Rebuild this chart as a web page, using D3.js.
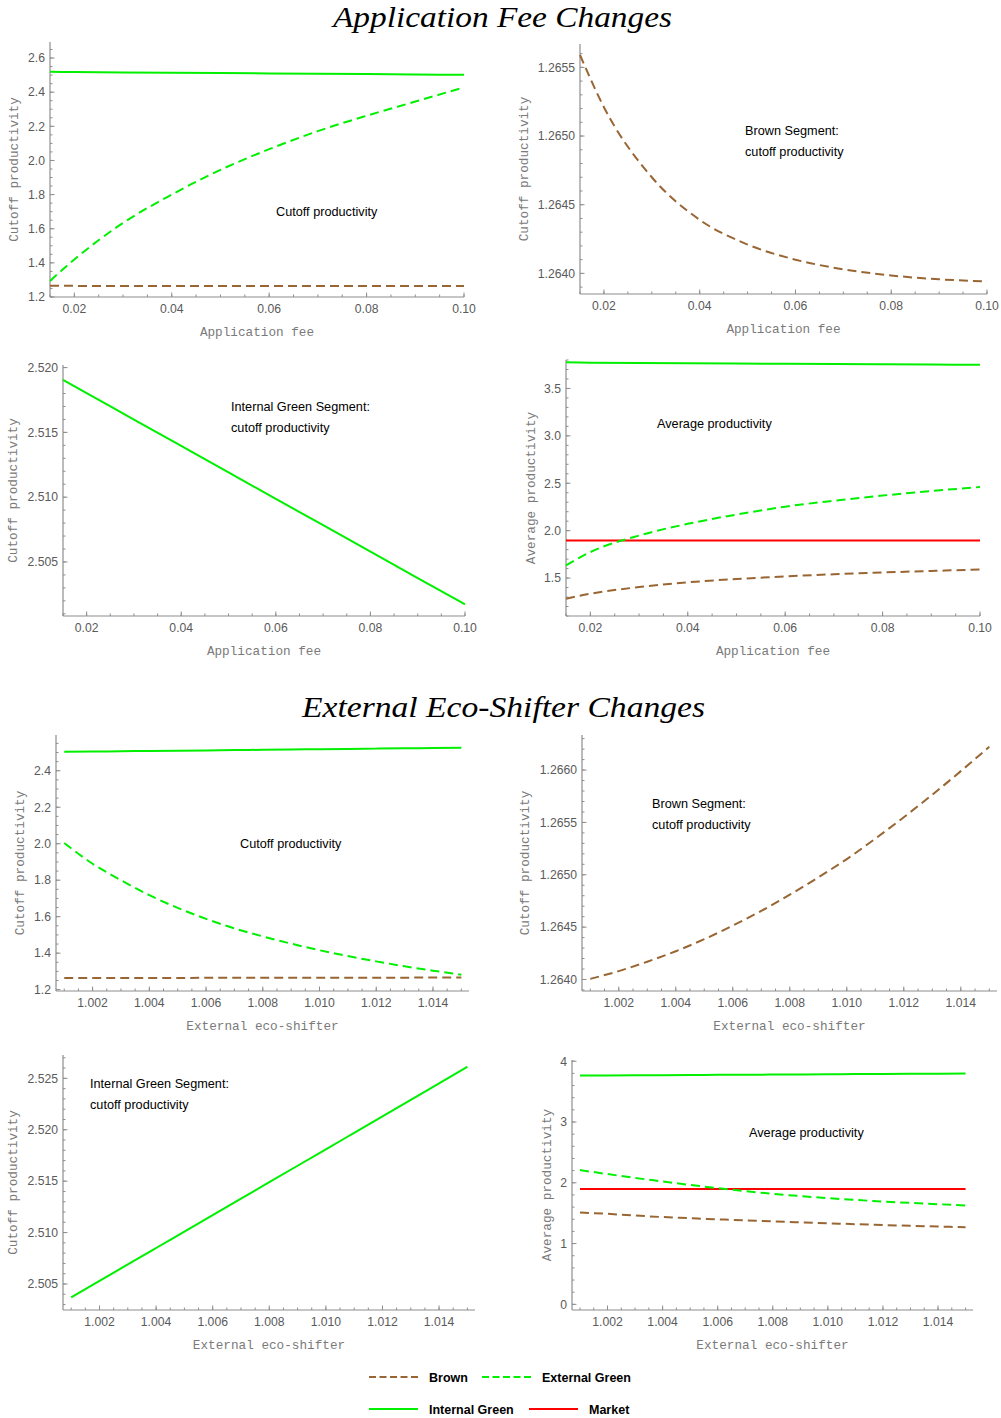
<!DOCTYPE html>
<html>
<head>
<meta charset="utf-8">
<script src="https://cdn.jsdelivr.net/npm/d3@7/dist/d3.min.js"></script>
<style>
  body { margin: 0; background: #fff; }
  svg { display: block; }
</style>
</head>
<body>
<svg id="chart" width="1001" height="1418"></svg>
<script>
// values

// application fee panels
let feeX = [0.015, 0.02, 0.03, 0.04, 0.05, 0.06, 0.07, 0.08, 0.09, 0.10];
let feeBrownCutoff = [1.26559, 1.26521, 1.26470, 1.26439, 1.26421, 1.26410, 1.26403, 1.263985, 1.263957, 1.263942];
let feeIntGreenCutoff = [2.51905, 2.51803, 2.51599, 2.51395, 2.51191, 2.50987, 2.50784, 2.5058, 2.50376, 2.50173];
let feeExtGreenCutoff = [1.294, 1.42, 1.634, 1.80, 1.945, 2.066, 2.172, 2.262, 2.345, 2.428];
let feeBrownAvg = [1.282, 1.335, 1.405, 1.455, 1.49, 1.518, 1.54, 1.559, 1.575, 1.59];
let feeExtGreenAvg = [1.633, 1.774, 1.949, 2.072, 2.17, 2.253, 2.316, 2.37, 2.418, 2.46];
let feeIntGreenAvg = [3.775, 3.772, 3.769, 3.766, 3.763, 3.76, 3.757, 3.755, 3.752, 3.749];
let feeMarketAvg = [1.896, 1.896, 1.896, 1.896, 1.896, 1.896, 1.896, 1.896, 1.896, 1.896];

// external eco-shifter panels
let ecoX = [1.001, 1.002, 1.003, 1.004, 1.005, 1.006, 1.007, 1.008, 1.009, 1.010, 1.011, 1.012, 1.013, 1.014, 1.015];
let ecoBrownCutoff = [1.264006, 1.26408, 1.26417, 1.26427, 1.264385, 1.264515, 1.264655, 1.26481, 1.264975, 1.26515, 1.265345, 1.26555, 1.265765, 1.26599, 1.266223];
let ecoIntGreenCutoff = [2.5037, 2.5053, 2.5069, 2.5085, 2.5101, 2.5117, 2.5133, 2.5149, 2.5165, 2.5181, 2.5197, 2.5213, 2.5229, 2.5245, 2.52613];
let ecoExtGreenCutoff = [2.004, 1.89, 1.80, 1.718, 1.648, 1.588, 1.536, 1.492, 1.452, 1.416, 1.384, 1.355, 1.328, 1.304, 1.282];
let ecoBrownAvg = [1.511, 1.489, 1.461, 1.436, 1.417, 1.399, 1.382, 1.365, 1.349, 1.334, 1.319, 1.305, 1.292, 1.28, 1.269];
let ecoExtGreenAvg = [2.209, 2.143, 2.08, 2.022, 1.965, 1.912, 1.863, 1.819, 1.781, 1.747, 1.718, 1.692, 1.669, 1.648, 1.626];
let ecoIntGreenAvg = [3.764, 3.766, 3.769, 3.771, 3.774, 3.776, 3.778, 3.78, 3.783, 3.785, 3.788, 3.790, 3.792, 3.795, 3.797];
let ecoMarketAvg = [1.896, 1.896, 1.896, 1.896, 1.896, 1.896, 1.896, 1.896, 1.896, 1.896, 1.896, 1.896, 1.896, 1.896, 1.896];

// tick labels
let feeTicks = [0.02, 0.04, 0.06, 0.08, 0.10];
let ecoTicks = [1.002, 1.004, 1.006, 1.008, 1.010, 1.012, 1.014];
let cutoffTicksA = [1.2, 1.4, 1.6, 1.8, 2.0, 2.2, 2.4, 2.6];
let cutoffTicksB = [1.2, 1.4, 1.6, 1.8, 2.0, 2.2, 2.4];
let brownTicksA = [1.2640, 1.2645, 1.2650, 1.2655];
let brownTicksB = [1.2640, 1.2645, 1.2650, 1.2655, 1.2660];
let intGreenTicksA = [2.505, 2.510, 2.515, 2.520];
let intGreenTicksB = [2.505, 2.510, 2.515, 2.520, 2.525];
let avgTicksA = [1.5, 2.0, 2.5, 3.0, 3.5];
let avgTicksB = [0, 1, 2, 3, 4];

let legendNames = ["Brown", "External Green", "Internal Green", "Market"];

// styles
let BROWN = "#996633";
let GREEN = "#00f000";
let RED = "#ff0000";
let AXIS = "#8e8e8e";
let TICKTXT = "#5a5a5a";
let LABTXT = "#7a7a7a";

let styles = {
  brown: { color: BROWN, dash: "9,5" },
  ext: { color: GREEN, dash: "9,5" },
  int: { color: GREEN, dash: null },
  market: { color: RED, dash: null }
};

let svg = d3.select("#chart");

// titles
svg.append("text")
  .attr("x", 502.5).attr("y", 27)
  .attr("text-anchor", "middle")
  .attr("font-family", "'Liberation Serif', serif")
  .attr("font-style", "italic")
  .attr("font-size", 29)
  .attr("textLength", 339).attr("lengthAdjust", "spacingAndGlyphs")
  .text("Application Fee Changes");

svg.append("text")
  .attr("x", 503.5).attr("y", 717)
  .attr("text-anchor", "middle")
  .attr("font-family", "'Liberation Serif', serif")
  .attr("font-style", "italic")
  .attr("font-size", 29)
  .attr("textLength", 403).attr("lengthAdjust", "spacingAndGlyphs")
  .text("External Eco-Shifter Changes");

// panel layouts
let panels = [
  {
    px: [50, 464], py: [297, 42], xd: [0.015, 0.1], yd: [1.2, 2.694],
    xt: feeTicks, xMinor: 0.005, xf: d3.format(".2f"),
    yt: cutoffTicksA, yMinor: 0.05, yf: d3.format(".1f"),
    xlab: "Application fee", ylab: "Cutoff productivity", ylabX: 14,
    xs: feeX,
    series: [["brown", feeBrownCutoff], ["ext", feeExtGreenCutoff], ["int", feeIntGreenCutoff]],
    notes: [[276, 211, "Cutoff productivity"]]
  },
  {
    px: [580, 987], py: [294, 44], xd: [0.015, 0.1], yd: [1.26385, 1.26567],
    xt: feeTicks, xMinor: 0.005, xf: d3.format(".2f"),
    yt: brownTicksA, yMinor: 0.0001, yf: d3.format(".4f"),
    xlab: "Application fee", ylab: "Cutoff productivity", ylabX: 524,
    xs: feeX,
    series: [["brown", feeBrownCutoff]],
    notes: [[745, 130, "Brown Segment:"], [745, 151, "cutoff productivity"]]
  },
  {
    px: [63, 465], py: [616, 365], xd: [0.015, 0.1], yd: [2.50083, 2.5202],
    xt: feeTicks, xMinor: 0.005, xf: d3.format(".2f"),
    yt: intGreenTicksA, yMinor: 0.001, yf: d3.format(".3f"),
    xlab: "Application fee", ylab: "Cutoff productivity", ylabX: 13,
    xs: feeX,
    series: [["int", feeIntGreenCutoff]],
    notes: [[231, 406, "Internal Green Segment:"], [231, 427, "cutoff productivity"]]
  },
  {
    px: [566, 980], py: [616, 360], xd: [0.015, 0.1], yd: [1.1, 3.8],
    xt: feeTicks, xMinor: 0.005, xf: d3.format(".2f"),
    yt: avgTicksA, yMinor: 0.1, yf: d3.format(".1f"),
    xlab: "Application fee", ylab: "Average productivity", ylabX: 531,
    xs: feeX,
    series: [["int", feeIntGreenAvg], ["market", feeMarketAvg], ["ext", feeExtGreenAvg], ["brown", feeBrownAvg]],
    notes: [[657, 423, "Average productivity"]]
  },
  {
    px: [56, 469], py: [991, 735], xd: [1.00071, 1.01527], yd: [1.1925, 2.596],
    xt: ecoTicks, xMinor: 0.0005, xf: d3.format(".3f"),
    yt: cutoffTicksB, yMinor: 0.05, yf: d3.format(".1f"),
    xlab: "External eco-shifter", ylab: "Cutoff productivity", ylabX: 20,
    xs: ecoX,
    series: [["brown", ecoBrownCutoff], ["ext", ecoExtGreenCutoff], ["int", ecoIntGreenCutoff]],
    notes: [[240, 843, "Cutoff productivity"]]
  },
  {
    px: [582, 997], py: [991, 735], xd: [1.00071, 1.01527], yd: [1.26389, 1.266335],
    xt: ecoTicks, xMinor: 0.0005, xf: d3.format(".3f"),
    yt: brownTicksB, yMinor: 0.0001, yf: d3.format(".4f"),
    xlab: "External eco-shifter", ylab: "Cutoff productivity", ylabX: 525,
    xs: ecoX,
    series: [["brown", ecoBrownCutoff]],
    notes: [[652, 803, "Brown Segment:"], [652, 824, "cutoff productivity"]]
  },
  {
    px: [63, 475], py: [1310, 1055], xd: [1.00071, 1.01527], yd: [2.50247, 2.52727],
    xt: ecoTicks, xMinor: 0.0005, xf: d3.format(".3f"),
    yt: intGreenTicksB, yMinor: 0.001, yf: d3.format(".3f"),
    xlab: "External eco-shifter", ylab: "Cutoff productivity", ylabX: 13,
    xs: ecoX,
    series: [["int", ecoIntGreenCutoff]],
    notes: [[90, 1083, "Internal Green Segment:"], [90, 1104, "cutoff productivity"]]
  },
  {
    px: [572, 973], py: [1310, 1060], xd: [1.00071, 1.01527], yd: [-0.093, 4.02],
    xt: ecoTicks, xMinor: 0.0005, xf: d3.format(".3f"),
    yt: avgTicksB, yMinor: 0.2, yf: d3.format("d"),
    xlab: "External eco-shifter", ylab: "Average productivity", ylabX: 547,
    xs: ecoX,
    series: [["int", ecoIntGreenAvg], ["market", ecoMarketAvg], ["ext", ecoExtGreenAvg], ["brown", ecoBrownAvg]],
    notes: [[749, 1132, "Average productivity"]]
  }
];

let drawPanel = (p) => {
  let x = d3.scaleLinear().domain(p.xd).range(p.px);
  let y = d3.scaleLinear().domain(p.yd).range(p.py);
  let g = svg.append("g");

  // minor ticks (pointing into the plot)
  let xMinors = d3.range(Math.ceil(p.xd[0] / p.xMinor - 1e-6) * p.xMinor, p.xd[1] + 1e-9, p.xMinor);
  let yMinors = d3.range(Math.ceil(p.yd[0] / p.yMinor - 1e-6) * p.yMinor, p.yd[1] + 1e-9, p.yMinor);

  g.selectAll(".xm").data(xMinors).enter().append("line")
    .attr("x1", (d) => x(d)).attr("x2", (d) => x(d))
    .attr("y1", p.py[0]).attr("y2", p.py[0] - 2.5)
    .attr("stroke", AXIS).attr("stroke-width", 1);
  g.selectAll(".ym").data(yMinors).enter().append("line")
    .attr("x1", p.px[0]).attr("x2", p.px[0] + 2.5)
    .attr("y1", (d) => y(d)).attr("y2", (d) => y(d))
    .attr("stroke", AXIS).attr("stroke-width", 1);

  // major ticks
  g.selectAll(".xt").data(p.xt).enter().append("line")
    .attr("x1", (d) => x(d)).attr("x2", (d) => x(d))
    .attr("y1", p.py[0]).attr("y2", p.py[0] - 4.5)
    .attr("stroke", AXIS).attr("stroke-width", 1);
  g.selectAll(".yt").data(p.yt).enter().append("line")
    .attr("x1", p.px[0]).attr("x2", p.px[0] + 4.5)
    .attr("y1", (d) => y(d)).attr("y2", (d) => y(d))
    .attr("stroke", AXIS).attr("stroke-width", 1);

  // axis lines
  g.append("line")
    .attr("x1", p.px[0]).attr("x2", p.px[1])
    .attr("y1", p.py[0]).attr("y2", p.py[0])
    .attr("stroke", AXIS).attr("stroke-width", 1.2);
  g.append("line")
    .attr("x1", p.px[0]).attr("x2", p.px[0])
    .attr("y1", p.py[0]).attr("y2", p.py[1])
    .attr("stroke", AXIS).attr("stroke-width", 1.2);

  // tick labels
  g.selectAll(".xl").data(p.xt).enter().append("text")
    .attr("x", (d) => x(d)).attr("y", p.py[0] + 15.5)
    .attr("text-anchor", "middle")
    .attr("font-family", "'Liberation Sans', Arial, sans-serif")
    .attr("font-size", 12.2).attr("fill", TICKTXT)
    .text((d) => p.xf(d));
  g.selectAll(".yl").data(p.yt).enter().append("text")
    .attr("x", p.px[0] - 5).attr("y", (d) => y(d) + 4.3)
    .attr("text-anchor", "end")
    .attr("font-family", "'Liberation Sans', Arial, sans-serif")
    .attr("font-size", 12.2).attr("fill", TICKTXT)
    .text((d) => p.yf(d));

  // axis titles
  g.append("text")
    .attr("x", (p.px[0] + p.px[1]) / 2).attr("y", p.py[0] + 39)
    .attr("text-anchor", "middle")
    .attr("font-family", "'Liberation Mono', 'Courier New', monospace")
    .attr("font-size", 12.7).attr("fill", LABTXT)
    .text(p.xlab);
  let cy = (p.py[0] + p.py[1]) / 2;
  g.append("text")
    .attr("transform", "translate(" + (p.ylabX + 4) + "," + cy + ") rotate(-90)")
    .attr("text-anchor", "middle")
    .attr("font-family", "'Liberation Mono', 'Courier New', monospace")
    .attr("font-size", 12.7).attr("fill", LABTXT)
    .text(p.ylab);

  // curves
  let line = d3.line()
    .x((d) => x(d[0]))
    .y((d) => y(d[1]))
    .curve(d3.curveMonotoneX);

  p.series.forEach((s) => {
    let st = styles[s[0]];
    let pts = p.xs.map((v, i) => [v, s[1][i]]);
    g.append("path")
      .attr("d", line(pts))
      .attr("fill", "none")
      .attr("stroke", st.color)
      .attr("stroke-width", 2)
      .attr("stroke-dasharray", st.dash);
  });

  // annotations
  p.notes.forEach((n) => {
    g.append("text")
      .attr("x", n[0]).attr("y", n[1] + 4.5)
      .attr("font-family", "'Liberation Sans', Arial, sans-serif")
      .attr("font-size", 12.7).attr("fill", "#000")
      .text(n[2]);
  });
};

panels.forEach(drawPanel);

// legend
let legendKeys = ["brown", "ext", "int", "market"];
let legendPos = [[369, 1377], [482, 1377], [369, 1409], [529, 1409]];

let lg = svg.append("g");
legendKeys.forEach((k, i) => {
  let st = styles[k];
  let pos = legendPos[i];
  lg.append("line")
    .attr("x1", pos[0]).attr("x2", pos[0] + 49)
    .attr("y1", pos[1]).attr("y2", pos[1])
    .attr("stroke", st.color).attr("stroke-width", 2)
    .attr("stroke-dasharray", st.dash ? "7,3.5" : null);
  lg.append("text")
    .attr("x", pos[0] + 60).attr("y", pos[1] + 4.5)
    .attr("font-family", "'Liberation Sans', Arial, sans-serif")
    .attr("font-weight", "bold")
    .attr("font-size", 12.5).attr("fill", "#000")
    .text(legendNames[i]);
});
</script>
</body>
</html>
